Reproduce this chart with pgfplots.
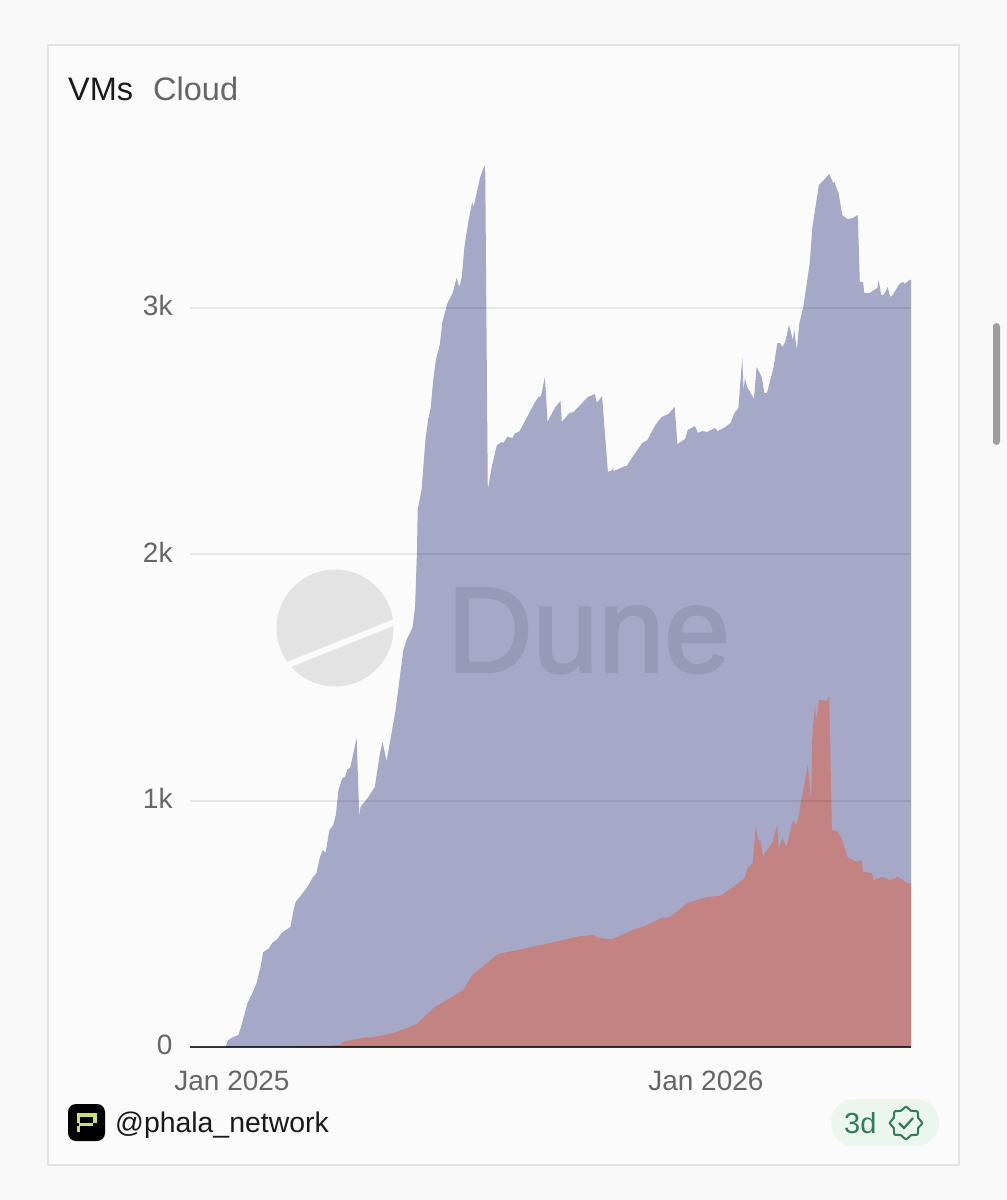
\documentclass[border=0pt]{standalone}
\usepackage{fontspec}
\setmainfont{Liberation Sans}
\usepackage{pgfplots}
\usepackage{pgfplotstable}
\pgfplotsset{compat=1.18}
\definecolor{pagebg}{HTML}{F8F8F8}
\definecolor{cardbg}{HTML}{FBFBFB}
\definecolor{cardline}{HTML}{E3E3E3}
\definecolor{vmblue}{HTML}{A6A8C8}
\definecolor{cloudred}{HTML}{C28382}
\definecolor{labelgray}{HTML}{666666}
\definecolor{badgegreen}{HTML}{2F7D5B}
\definecolor{badgebg}{HTML}{EBF6EE}
\definecolor{lime}{HTML}{C9E265}
\definecolor{dunemark}{HTML}{9899B7}
\pgfplotstableread{
day vms
-32 0
-5 0
-3 28
1 41
5 49
8 101
12 179
15 211
19 260
22 325
24 385
28 398
31 422
35 438
38 462
45 487
47 544
49 588
54 621
59 657
62 686
65 706
68 775
70 799
72 787
75 880
78 901
80 941
82 1043
85 1091
87 1095
89 1128
91 1132
96 1254
98 937
99 974
105 1014
110 1055
114 1193
116 1237
119 1160
121 1217
126 1367
132 1611
135 1659
139 1700
141 1785
142.5 2016
143 2179
146 2260
149 2463
151 2544
153 2592
155 2706
157 2787
160 2848
162 2941
166 3018
170 3059
173 3120
175 3083
177 3124
179 3246
182 3347
185 3428
186 3408
191 3526
192.5 3550
195 3578
197 2260
200 2353
204 2442
208 2455
209 2450
212 2475
216 2471
218 2491
221 2495
224 2523
233 2613
236 2637
238 2641
241 2718
243 2536
249 2596
253 2621
254 2536
260 2572
263 2576
274 2637
279.5 2649
281 2613
285 2641
289.5 2333
293 2341
293.4 2353
294 2337
303 2357
304 2357
308 2390
316 2450
320 2463
326 2523
331 2556
336 2568
341 2596
343 2446
349 2467
351 2503
356.5 2519
359 2491
362 2499
366 2495
372 2511
374 2499
380 2515
384 2532
387 2572
390 2592
393 2795
394 2665
395 2714
397 2674
399 2657
402 2629
404 2759
408 2718
410 2653
412 2653
417 2755
420 2856
422 2856
424 2840
426 2860
429 2929
432 2868
433 2909
435 2828
437 2937
440 3002
445 3181
447 3327
452 3497
455 3513
460 3542
463 3505
464 3509
466 3477
467 3469
470 3375
474 3359
478 3363
482 3375
483.5 3104
486 3104
487 3059
491 3059
497 3079
498 3112
500 3051
502 3051
505 3083
507 3043
509 3051
514 3096
517 3104
518 3096
522 3112
523 3112
}\vmstable
\pgfplotstableread{
day cloud
-32 0
50 0
83 8
85 20
100 37
110 41
124 57
142.5 93
155 158
178 231
185 292
205 377
245 422
268 450
278 454
283 442
293 438
309 475
320 495
330 523
337 527
351 584
366 609
376 613
386 649
395 686
397 726
401 746
403.5 897
405 840
407 836
409 775
416 828
420 901
421 803
424 848
427 811
432 921
435 901
440 1043
443.5 1144
446 1002
447 1274
449 1387
450 1327
452 1408
458 1404
460 1420
462 880
466 876
470 840
474 771
478 759
481 751
485 759
486 710
493 706
494 677
501 690
507 677
513 690
520 665
523 665
}\cloudtable
\begin{document}
\begin{tikzpicture}
\begin{scope}[x=1pt,y=-1pt]
\fill[pagebg] (0,0) rectangle (1007,1200);
\filldraw[fill=cardbg,draw=cardline,line width=2pt] (48,45) rectangle (959,1165);
\fill[black!38,rounded corners=3.5pt] (993,323) rectangle (1000,445);
\node[anchor=base west,inner sep=0pt,text=black!90,font=\fontsize{32.5}{32.5}\selectfont] at (68,100) {VMs};
\node[anchor=base west,inner sep=0pt,text=labelgray,font=\fontsize{32.5}{32.5}\selectfont] at (153,100) {Cloud};
% Dune logo
\fill[black!11] (335,628) circle (58.5);
\begin{scope}
\clip (335,628) circle (60);
\draw[cardbg,line width=6pt] (280,668) -- (400,620);
\end{scope}
\end{scope}
\begin{axis}[
  at={(232pt,-1047pt)},anchor=origin,
  scale only axis,width=721pt,height=897pt,
  xmin=-32.3,xmax=523,ymin=0,ymax=3639,
  clip=false,axis on top,
  axis line style={draw=none},
  major tick style={draw=none},
  xtick={0,365},xticklabels={Jan 2025,Jan 2026},
  ytick={0,1000,2000,3000},yticklabels={0,1k,2k,3k},
  ymajorgrids,
  grid style={black,opacity=0.08,line width=2pt},
  /pgf/number format/assume math mode=true,
  tick label style={text=labelgray,font=\fontsize{28}{28}\selectfont},
  xticklabel style={yshift=-20pt},
  yticklabel style={xshift=-14pt,yshift=2pt},
]
\addplot[fill=vmblue,draw=none] table[x=day,y=vms] {\vmstable} \closedcycle;
\addplot[fill=cloudred,draw=none] table[x=day,y=cloud] {\cloudtable} \closedcycle;
\addplot[draw=black,opacity=0.75,line width=2pt] coordinates {(-32.3,0) (523,0)};
\end{axis}
\begin{scope}[x=1pt,y=-1pt]
\node[anchor=base west,inner sep=0pt,text=dunemark,xscale=0.97,font=\fontsize{122}{122}\selectfont\addfontfeature{FakeBold=2}] at (447,672) {Dune};
% handle icon
\fill[black,rounded corners=8pt] (68,1104) rectangle (105,1141);
\fill[lime] (77,1113) rectangle (97,1117);
\fill[lime] (93,1117) rectangle (97,1123);
\fill[lime] (79,1123) rectangle (93,1126);
\fill[lime] (77,1117) rectangle (80,1123);
\fill[lime] (77,1126) rectangle (80,1132);
\node[anchor=base west,inner sep=0pt,text=black!90,font=\fontsize{28.4}{28.4}\selectfont] at (115,1132) {@phala\_network};
% freshness badge
\fill[badgebg,rounded corners=23pt] (831,1099) rectangle (939,1146);
\node[anchor=base west,inner sep=0pt,text=badgegreen,font=\fontsize{29}{29}\selectfont] at (844,1133) {3d};
\draw[badgegreen,line width=2pt] plot[smooth cycle,domain=0:337.5,samples=16] ({906+(14.7+1.5*cos(8*\x))*cos(\x)},{1123+(14.7+1.5*cos(8*\x))*sin(\x)});
\draw[badgegreen,line width=2.2pt] (899,1123) -- (904,1128) -- (913,1118);
\end{scope}
\end{tikzpicture}
\end{document}
